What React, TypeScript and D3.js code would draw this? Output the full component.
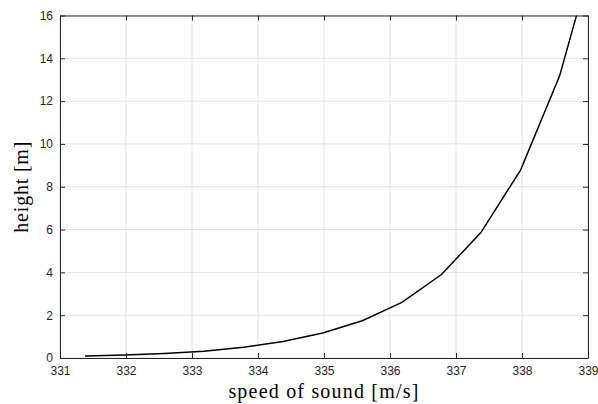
import React, { useEffect, useRef } from "react";
import * as d3 from "d3";

// speed of sound [m/s] vs height [m]
const speed = [331.38, 331.98, 332.58, 333.18, 333.78, 334.38, 334.98, 335.58, 336.18, 336.78, 337.38, 337.98, 338.57, 339.17];
const height = [0.09, 0.14, 0.21, 0.32, 0.5, 0.77, 1.17, 1.74, 2.6, 3.9, 5.87, 8.79, 13.18, 19.8];
const xTicks = [331, 332, 333, 334, 335, 336, 337, 338, 339];
const yTicks = [0, 2, 4, 6, 8, 10, 12, 14, 16];

const App = () => {
  const ref = useRef<SVGSVGElement>(null);

  useEffect(() => {
    const width = 598,
      h = 404;
    const margin = { left: 60, top: 15.5, right: 10, bottom: 46 };

    const svg = d3.select(ref.current).attr("width", width).attr("height", h);
    svg.selectAll("*").remove();

    const x = d3.scaleLinear().domain([331, 339]).range([margin.left, width - margin.right]);
    const y = d3.scaleLinear().domain([0, 16]).range([h - margin.bottom, margin.top]);

    // grid
    svg
      .append("g")
      .selectAll("line")
      .data(xTicks)
      .join("line")
      .attr("x1", (d) => x(d))
      .attr("x2", (d) => x(d))
      .attr("y1", y(0))
      .attr("y2", y(16))
      .attr("stroke", "#e3e3e3")
      .attr("stroke-width", 1);
    svg
      .append("g")
      .selectAll("line")
      .data(yTicks)
      .join("line")
      .attr("y1", (d) => y(d))
      .attr("y2", (d) => y(d))
      .attr("x1", x(331))
      .attr("x2", x(339))
      .attr("stroke", "#e3e3e3")
      .attr("stroke-width", 1);

    // line, clipped to the axes box
    svg
      .append("clipPath")
      .attr("id", "plotclip")
      .append("rect")
      .attr("x", x(331))
      .attr("y", y(16))
      .attr("width", x(339) - x(331))
      .attr("height", y(0) - y(16));

    const line = d3
      .line<number>()
      .x((d, i) => x(speed[i]))
      .y((d) => y(d));

    svg
      .append("path")
      .datum(height)
      .attr("clip-path", "url(#plotclip)")
      .attr("d", line)
      .attr("fill", "none")
      .attr("stroke", "#000")
      .attr("stroke-width", 1.5);

    // axes box with inward ticks
    const axisColor = "#262626";
    const bottom = svg.append("g").attr("transform", `translate(0,${y(0)})`).call(d3.axisBottom(x).tickValues(xTicks).tickSizeInner(-5).tickSizeOuter(0).tickPadding(8).tickFormat(d3.format("d")));
    const top = svg.append("g").attr("transform", `translate(0,${y(16)})`).call(d3.axisTop(x).tickValues(xTicks).tickSizeInner(-5).tickSizeOuter(0).tickFormat(() => ""));
    const left = svg.append("g").attr("transform", `translate(${x(331)},0)`).call(d3.axisLeft(y).tickValues(yTicks).tickSizeInner(-5).tickSizeOuter(0).tickPadding(7).tickFormat(d3.format("d")));
    const right = svg.append("g").attr("transform", `translate(${x(339)},0)`).call(d3.axisRight(y).tickValues(yTicks).tickSizeInner(-5).tickSizeOuter(0).tickFormat(() => ""));

    [bottom, top, left, right].forEach((g) => {
      g.select(".domain").attr("stroke", axisColor).attr("stroke-width", 1);
      g.selectAll(".tick line").attr("stroke", axisColor);
      g.selectAll(".tick text")
        .attr("fill", axisColor)
        .style("font-family", "'Liberation Sans', Arial, sans-serif")
        .style("font-size", "12px");
    });

    // axis labels
    svg
      .append("text")
      .attr("x", (x(331) + x(339)) / 2)
      .attr("y", 398)
      .attr("text-anchor", "middle")
      .style("font-family", "'Liberation Serif', 'DejaVu Serif', serif")
      .style("font-size", "20px")
      .style("letter-spacing", "1.2px")
      .attr("fill", "#000")
      .text("speed of sound [m/s]");

    svg
      .append("text")
      .attr("transform", `translate(28,${(y(0) + y(16)) / 2}) rotate(-90)`)
      .attr("text-anchor", "middle")
      .style("font-family", "'Liberation Serif', 'DejaVu Serif', serif")
      .style("font-size", "20px")
      .style("letter-spacing", "0.8px")
      .attr("fill", "#000")
      .text("height [m]");
  }, []);

  return (
    <svg
      ref={ref}
      style={{ position: "absolute", left: 0, top: 0, display: "block", background: "#fff" }}
    ></svg>
  );
};

export default App;
